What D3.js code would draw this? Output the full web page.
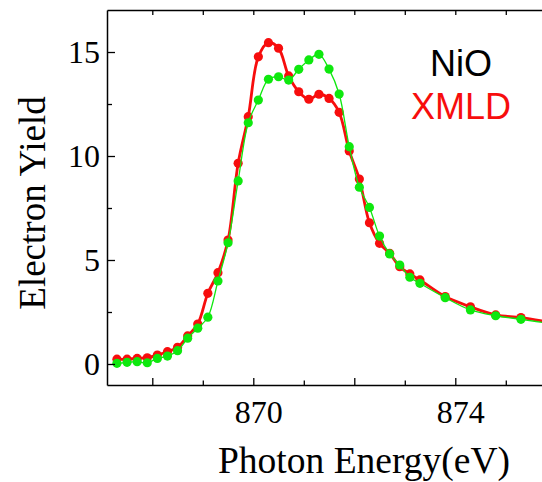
<!DOCTYPE html>
<html>
<head>
<meta charset="utf-8">
<script src="https://cdn.jsdelivr.net/npm/d3@7"></script>
<style>
  body { margin: 0; background: #fff; }
  svg { display: block; }
</style>
</head>
<body>
<script>
//Declare consts
    const width = 542;
    const height = 482;
    const plot = {left: 107, right: 542, top: 10, bottom: 385};

//Data
    const energy = [867.3, 867.5, 867.7, 867.9, 868.1, 868.3, 868.5, 868.7, 868.9, 869.1,
                    869.3, 869.5, 869.7, 869.9, 870.1, 870.3, 870.5, 870.7, 870.9, 871.1,
                    871.3, 871.5, 871.7, 871.9, 872.1, 872.3, 872.5, 872.7, 872.9, 873.1,
                    873.3, 873.8, 874.3, 874.8, 875.3, 876.0];
    const nioYield = [0.23, 0.23, 0.27, 0.30, 0.43, 0.59, 0.80, 1.35, 1.92, 3.40,
                      4.39, 5.96, 9.65, 11.89, 14.77, 15.45, 15.18, 13.85, 13.09, 12.73,
                      12.97, 12.77, 12.10, 10.24, 8.89, 6.79, 5.80, 5.32, 4.68, 4.33,
                      4.04, 3.24, 2.75, 2.36, 2.23, 1.96];
    const xmldYield = [0.03, 0.08, 0.11, 0.06, 0.27, 0.38, 0.64, 1.24, 1.72, 2.25,
                       3.99, 5.83, 8.80, 11.60, 12.69, 13.69, 13.81, 13.65, 14.17, 14.62,
                       14.89, 14.18, 12.98, 10.45, 8.50, 7.53, 6.15, 5.29, 4.76, 4.17,
                       3.88, 3.19, 2.60, 2.32, 2.15, 1.90];
    const xTicks = [868, 869, 870, 871, 872, 873, 874, 875];
    const xLabels = [870, 874];
    const yTicks = [0, 2.5, 5, 7.5, 10, 12.5, 15];
    const yLabels = [0, 5, 10, 15];

    const series = [
        {name: "red", values: nioYield, color: "#f70d0d", width: 2.8},
        {name: "green", values: xmldYield, color: "#0ee80e", width: 1.3}
    ];

//Scales
    const xScale = d3.scaleLinear()
                    .domain([867.103, 875.717])
                    .range([plot.left, plot.right]);
    const yScale = d3.scaleLinear()
                    .domain([-1.01, 17.02])
                    .range([plot.bottom, plot.top]);

//Adding svg
    const svg = d3.select("body")
        .append("svg")
        .attr("width", width)
        .attr("height", height);

    svg.append("defs").append("clipPath")
        .attr("id", "clip")
        .append("rect")
        .attr("x", plot.left)
        .attr("y", plot.top)
        .attr("width", plot.right - plot.left)
        .attr("height", plot.bottom - plot.top);

//Lines and markers
    const line = d3.line()
                    .x((d, i) => xScale(energy[i]))
                    .y(d => yScale(d))
                    .curve(d3.curveCatmullRom.alpha(0.5));

    const layer = svg.append("g").attr("clip-path", "url(#clip)");
    series.forEach(s => {
        layer.append("path")
            .datum(s.values)
            .attr("fill", "none")
            .attr("stroke", s.color)
            .attr("stroke-width", s.width)
            .attr("d", line);
        layer.selectAll(".pt-" + s.name)
            .data(s.values)
            .join("circle")
            .attr("cx", (d, i) => xScale(energy[i]))
            .attr("cy", d => yScale(d))
            .attr("r", 4.6)
            .attr("fill", s.color);
    });

//Axes
    const tickFont = "'Liberation Serif', 'Times New Roman', serif";

    const bottomAxis = d3.axisBottom(xScale)
                        .tickValues(xTicks)
                        .tickSizeInner(-7)
                        .tickSizeOuter(0)
                        .tickPadding(15)
                        .tickFormat(d => xLabels.includes(d) ? d : "");
    const gx = svg.append("g")
        .attr("transform", "translate(0," + plot.bottom + ")")
        .call(bottomAxis);
    gx.selectAll(".tick line").attr("y2", d => d % 2 === 0 ? -7 : -4.5);
    gx.selectAll(".tick text").attr("dx", 5);

    const topAxis = d3.axisTop(xScale)
                        .tickValues(xTicks)
                        .tickSizeInner(-5)
                        .tickSizeOuter(0)
                        .tickFormat("");
    svg.append("g")
        .attr("transform", "translate(0," + plot.top + ")")
        .call(topAxis);

    const leftAxis = d3.axisLeft(yScale)
                        .tickValues(yTicks)
                        .tickSizeInner(-8)
                        .tickSizeOuter(0)
                        .tickPadding(7)
                        .tickFormat(d => yLabels.includes(d) ? d : "");
    const gy = svg.append("g")
        .attr("transform", "translate(" + plot.left + ",0)")
        .call(leftAxis);
    gy.selectAll(".tick line").attr("x2", d => d % 5 === 0 ? 8 : 5);

    svg.selectAll(".domain").attr("stroke-width", 1.5);
    svg.selectAll(".tick line").attr("stroke-width", 1.3);
    svg.selectAll(".tick text")
        .attr("font-family", tickFont)
        .attr("font-size", 32)
        .attr("fill", "#000");

//Titles
    svg.append("text")
        .attr("x", 364)
        .attr("y", 473)
        .attr("text-anchor", "middle")
        .attr("font-family", tickFont)
        .attr("font-size", 37.5)
        .text("Photon Energy(eV)");

    svg.append("text")
        .attr("transform", "translate(45,203) rotate(-90)")
        .attr("text-anchor", "middle")
        .attr("font-family", tickFont)
        .attr("font-size", 37)
        .text("Electron Yield");

//Legend labels
    const legendFont = "'Liberation Sans', Arial, sans-serif";
    svg.append("text")
        .attr("x", 461)
        .attr("y", 76)
        .attr("text-anchor", "middle")
        .attr("font-family", legendFont)
        .attr("font-size", 36)
        .attr("fill", "#000")
        .text("NiO");
    svg.append("text")
        .attr("x", 461)
        .attr("y", 119)
        .attr("text-anchor", "middle")
        .attr("font-family", legendFont)
        .attr("font-size", 36)
        .attr("fill", "#f70d0d")
        .text("XMLD");
</script>
</body>
</html>
